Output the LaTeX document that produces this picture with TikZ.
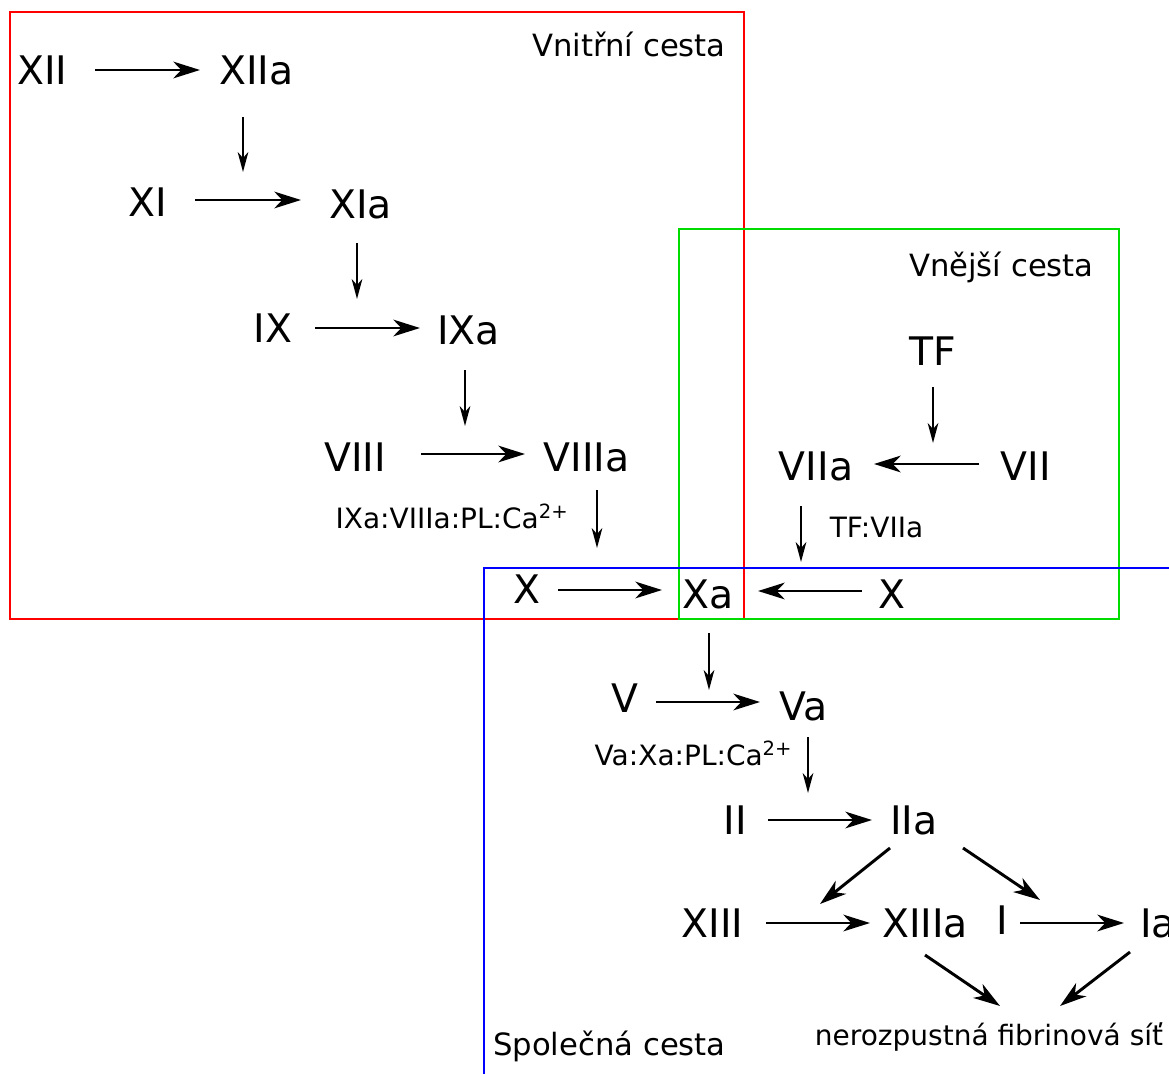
\documentclass[tikz,border=0pt]{standalone}
\usepackage{fontspec}
\setmainfont{DejaVu Sans}
\usetikzlibrary{arrows.meta}
\begin{document}
\begin{tikzpicture}[x=0.75pt,y=-0.75pt,
  big/.style={inner sep=0pt, font=\fontsize{29.5}{34}\selectfont, text height=21.5pt, text depth=0pt},
  mid/.style={inner sep=0pt, font=\fontsize{23}{27}\selectfont, text height=16.8pt, text depth=0pt},
  small/.style={inner sep=0pt, font=\fontsize{21}{25}\selectfont, text height=15.3pt, text depth=0pt},
  harr/.style={line width=2.2pt, -{Stealth[length=20pt,width=12.5pt,inset=6pt]}},
  varr/.style={line width=1.5pt, -{Stealth[length=15pt,width=8pt,inset=4.5pt]}},
  boxline/.style={line width=1.3pt}
]
\useasboundingbox (0,0) rectangle (1169,1073);
\clip (0,0) rectangle (1169,1073);
\fill[white] (0,0) rectangle (1169,1073);

% pathway frames
\draw[boxline, color={rgb,255:red,255;green,0;blue,0}] (10,12) rectangle (744,619);
\draw[boxline, color={rgb,255:red,0;green,220;blue,0}] (679,229) rectangle (1119,619);
\draw[boxline, color={rgb,255:red,0;green,0;blue,255}] (1180,568) -- (484,568) -- (484,1090);

% frame titles
\node[mid, anchor=east] (tin) at (726,45) {Vnitřní cesta};
\node[mid, anchor=east] (tout) at (1094,265) {Vnější cesta};
\node[mid, anchor=west] (tcom) at (493,1044) {Společná cesta};

% factors
\node[big] (XII) at (42.5,70) {XII};
\node[big] (XIIa) at (256.5,70) {XIIa};
\node[big] (XI) at (148,202) {XI};
\node[big] (XIa) at (360.5,204) {XIa};
\node[big] (IX) at (273,328) {IX};
\node[big] (IXa) at (468.5,330) {IXa};
\node[big] (VIII) at (355,457) {VIII};
\node[big] (VIIIa) at (586.5,457) {VIIIa};
\node[small] (tenase) at (452,518) {IXa:VIIIa:PL:Ca\textsuperscript{2+}};
\node[big] (X1) at (527,589) {X};
\node[big] (Xa) at (708.5,594) {Xa};
\node[big] (X2) at (891.5,594) {X};
\node[big] (TF) at (932.5,351) {TF};
\node[big] (VIIa) at (816,466) {VIIa};
\node[big] (VII) at (1026,466) {VII};
\node[small] (tfvii) at (876.5,527) {TF:VIIa};
\node[big] (V) at (624.5,698) {V};
\node[big] (Va) at (803.5,706) {Va};
\node[small] (prothr) at (693.5,755) {Va:Xa:PL:Ca\textsuperscript{2+}};
\node[big] (II) at (735,820) {II};
\node[big] (IIa) at (914,820) {IIa};
\node[big] (XIII) at (712.5,923) {XIII};
\node[big] (XIIIa) at (925,923) {XIIIa};
\node[big] (I) at (1002,920) {I};
\node[big, anchor=west] (Ia) at (1140,923) {Ia};
\node[small] (net) at (989,1035) {nerozpustná fibrinová síť};

% connector end points
\coordinate (c1a) at (95,70);   \coordinate (c1b) at (200,70);
\coordinate (c2a) at (243,117); \coordinate (c2b) at (243,172);
\coordinate (c3a) at (195,200); \coordinate (c3b) at (301,200);
\coordinate (c4a) at (357,243); \coordinate (c4b) at (357,299);
\coordinate (c5a) at (315,328); \coordinate (c5b) at (420,328);
\coordinate (c6a) at (465,370); \coordinate (c6b) at (465,426);
\coordinate (c7a) at (421,454); \coordinate (c7b) at (525,454);
\coordinate (c8a) at (597,490); \coordinate (c8b) at (597,548);
\coordinate (c9a) at (558,590); \coordinate (c9b) at (662,590);
\coordinate (c10a) at (862,591); \coordinate (c10b) at (758,591);
\coordinate (c11a) at (933,387); \coordinate (c11b) at (933,443);
\coordinate (c12a) at (979,464); \coordinate (c12b) at (874,464);
\coordinate (c13a) at (801,506); \coordinate (c13b) at (801,562);
\coordinate (c14a) at (709,633); \coordinate (c14b) at (709,690);
\coordinate (c15a) at (656,702); \coordinate (c15b) at (760,702);
\coordinate (c16a) at (808,737); \coordinate (c16b) at (808,793);
\coordinate (c17a) at (768,820); \coordinate (c17b) at (872,820);
\coordinate (c18a) at (890,848); \coordinate (c18b) at (820,904);
\coordinate (c19a) at (963,848); \coordinate (c19b) at (1040,900);
\coordinate (c20a) at (766,923); \coordinate (c20b) at (870,923);
\coordinate (c21a) at (1020,923); \coordinate (c21b) at (1124,923);
\coordinate (c22a) at (925,955); \coordinate (c22b) at (1000,1006);
\coordinate (c23a) at (1130,952); \coordinate (c23b) at (1060,1006);

% connectors
\draw[harr] (c1a) -- (c1b);
\draw[varr] (c2a) -- (c2b);
\draw[harr] (c3a) -- (c3b);
\draw[varr] (c4a) -- (c4b);
\draw[harr] (c5a) -- (c5b);
\draw[varr] (c6a) -- (c6b);
\draw[harr] (c7a) -- (c7b);
\draw[varr] (c8a) -- (c8b);
\draw[harr] (c9a) -- (c9b);
\draw[harr] (c10a) -- (c10b);
\draw[varr] (c11a) -- (c11b);
\draw[harr] (c12a) -- (c12b);
\draw[varr] (c13a) -- (c13b);
\draw[varr] (c14a) -- (c14b);
\draw[harr] (c15a) -- (c15b);
\draw[varr] (c16a) -- (c16b);
\draw[harr] (c17a) -- (c17b);
\draw[harr] (c18a) -- (c18b);
\draw[harr] (c19a) -- (c19b);
\draw[harr] (c20a) -- (c20b);
\draw[harr] (c21a) -- (c21b);
\draw[harr] (c22a) -- (c22b);
\draw[harr] (c23a) -- (c23b);
\end{tikzpicture}
\end{document}
